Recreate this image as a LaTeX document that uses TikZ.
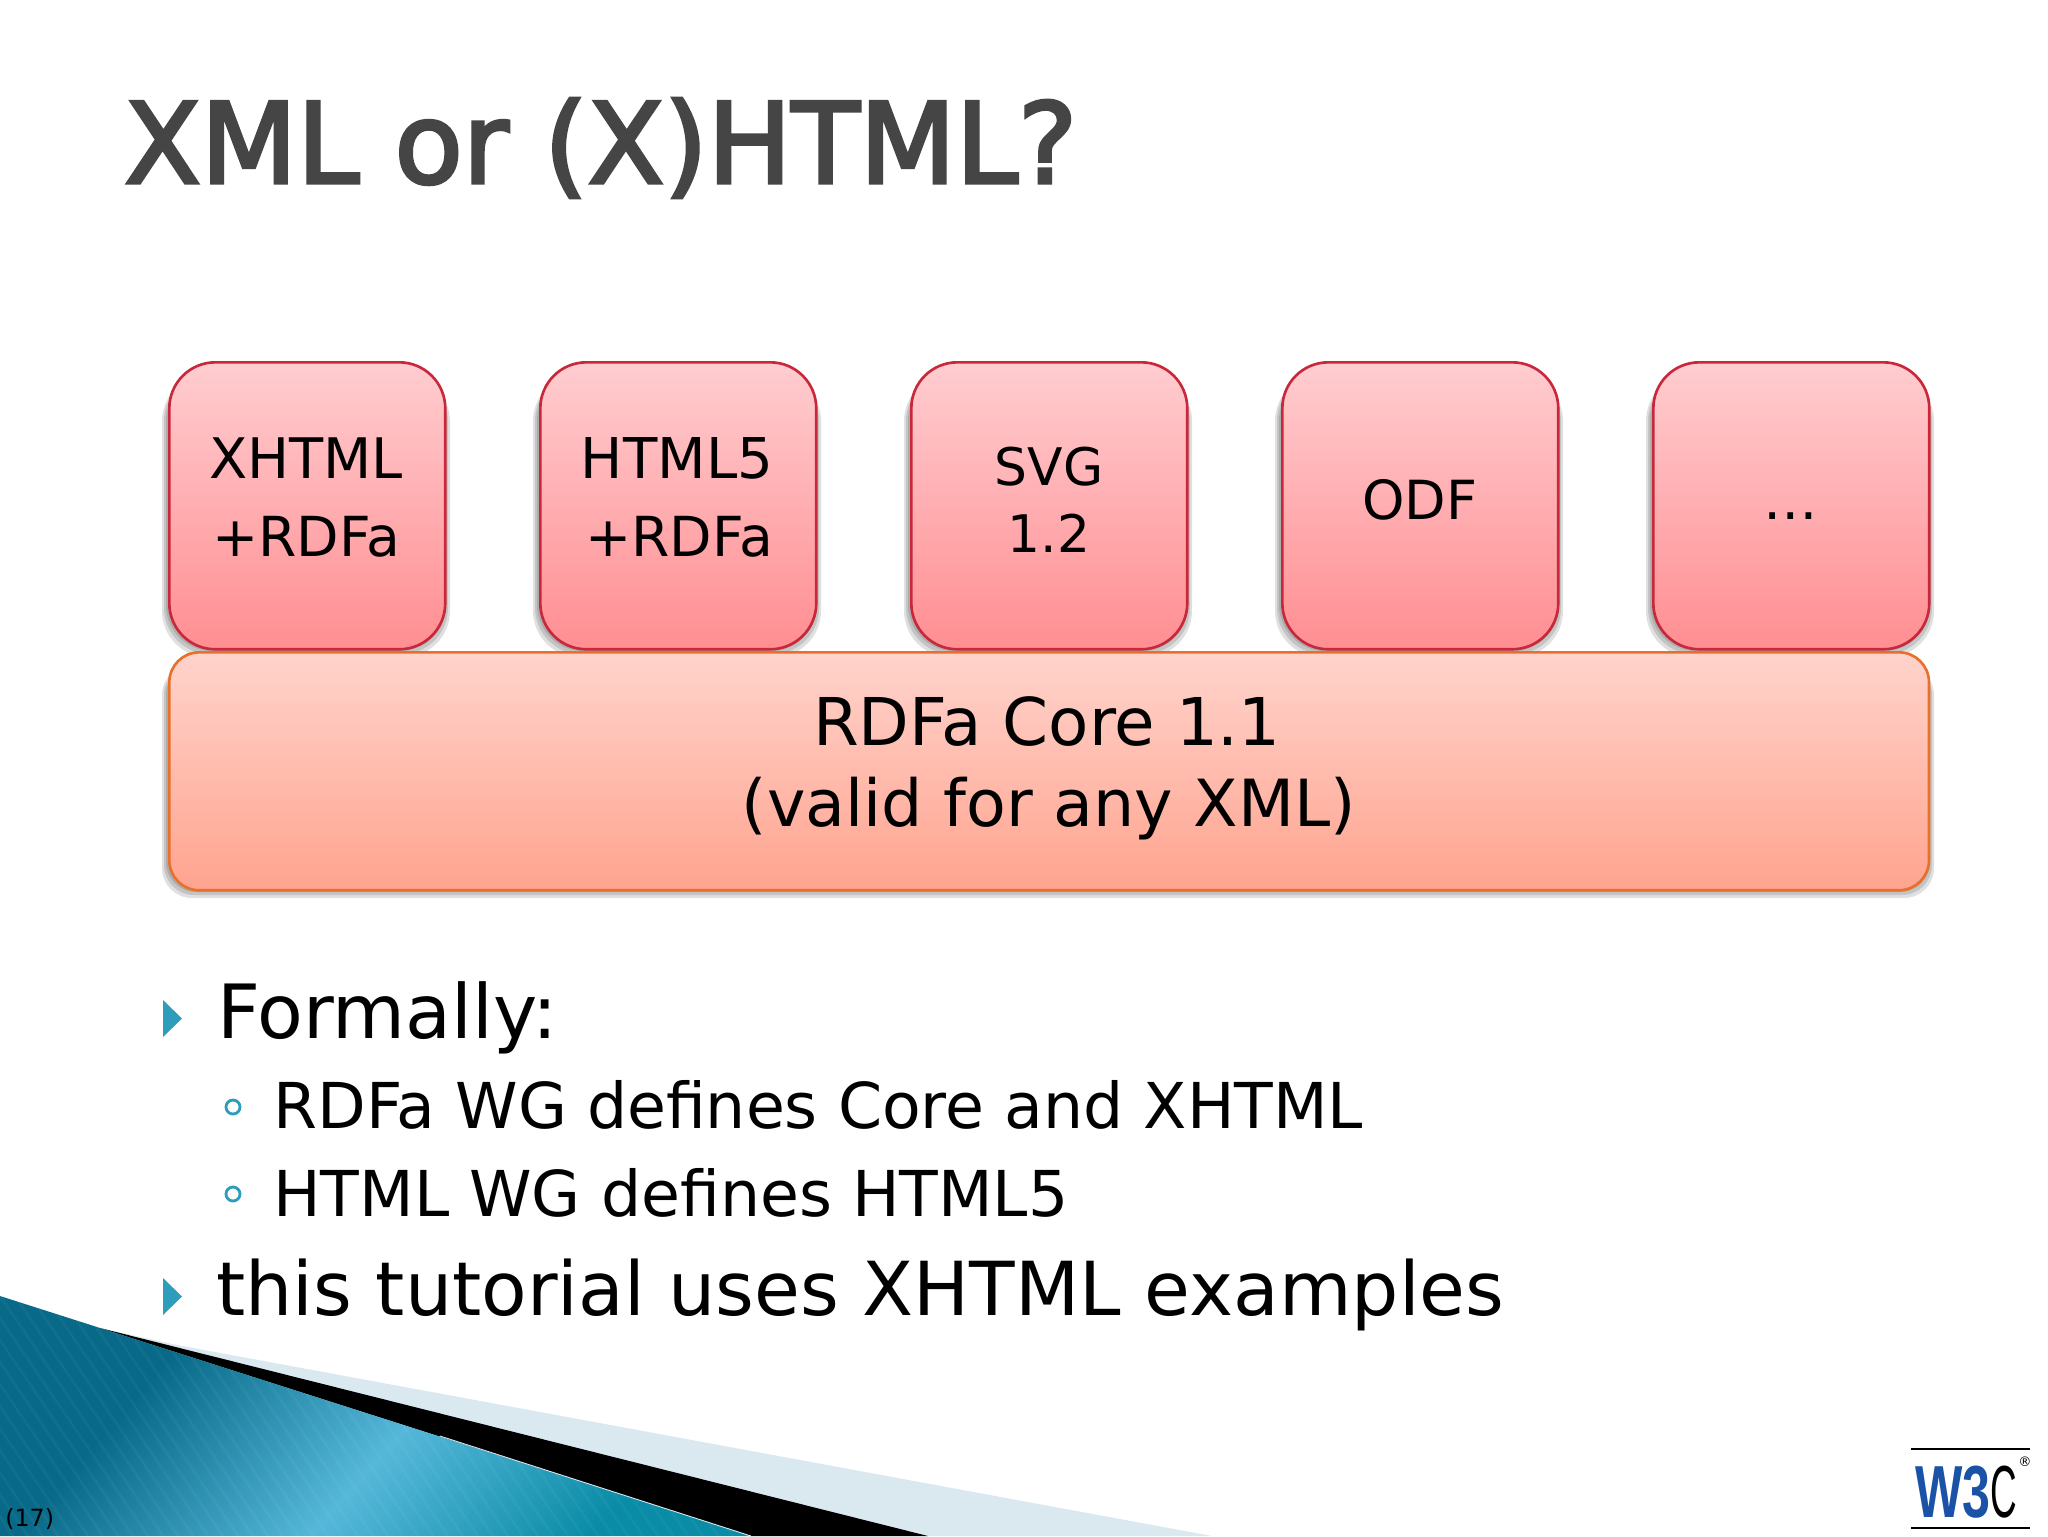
\documentclass[tikz,border=0pt]{standalone}
\usepackage{fontspec}
\usepackage{graphicx}
\setmainfont{DejaVu Sans}
\newfontfamily\titlefont[FakeBold=3]{DejaVu Sans}
\newfontfamily\logofont{Liberation Sans}
\newcommand{\fsz}[1]{\fontsize{#1}{#1}\selectfont}
\definecolor{tealb}{HTML}{2E9DBB}
\definecolor{boxtop}{HTML}{FFCDD0}
\definecolor{boxbot}{HTML}{FF8E92}
\definecolor{boxline}{HTML}{C8283A}
\definecolor{coretop}{HTML}{FFD3CC}
\definecolor{corebot}{HTML}{FFA48F}
\definecolor{coreline}{HTML}{E8702A}
\definecolor{lightwedge}{HTML}{DAE9F0}
\definecolor{bluedark}{HTML}{086A88}
\definecolor{bluelight}{HTML}{55B7D9}
\definecolor{bluemid}{HTML}{0A8CA6}
\definecolor{wthree}{HTML}{1A52A8}
\definecolor{titlegray}{HTML}{454545}
\pgfdeclarehorizontalshading{bluefan}{100bp}{color(0bp)=(bluedark); color(33bp)=(bluedark); color(50bp)=(bluelight); color(66bp)=(bluemid); color(100bp)=(bluemid)}
\tikzset{
  x=0.02cm,y=-0.02cm,
  slidebox/.style={draw=boxline,line width=1.5pt,rounded corners=0.92cm,top color=boxtop,bottom color=boxbot,
    minimum width=5.52cm,minimum height=5.74cm,inner sep=0pt,align=center,anchor=north west},
  corebox/.style={draw=coreline,line width=1.5pt,rounded corners=0.6cm,top color=coretop,bottom color=corebot,
    minimum width=35.2cm,minimum height=4.76cm,inner sep=0pt,align=center,anchor=north west},
  softshadow/.style={fill=black,fill opacity=0.12,draw=none},
  txt/.style={anchor=base west,inner sep=0pt,text=black},
  lab/.style={anchor=base,inner sep=0pt,text=black},
  tri/.style={fill=tealb,draw=none},
  ring/.style={draw=tealb,line width=1.6pt,fill=none},
}
\begin{document}
\begin{tikzpicture}
\useasboundingbox (0,0) rectangle (2048,1536);
\fill[white] (0,0) rectangle (2048,1536);
\clip (0,0) rectangle (2048,1536);
% title
\node[txt,text=titlegray] (title) at (124,183) {\titlefont\fsz{63.5}XML or (X)HTML?};
% bottom graphic
\fill[lightwedge] (100,1328) -- (177,1345) -- (1212,1536) -- (750,1536) -- cycle;
\fill[black] (100,1328) -- (928,1536) -- (751,1536) -- cycle;
\begin{scope}
\clip (0,1296) -- (751,1536) -- (0,1536) -- cycle;
\shade[shading=bluefan,shading angle=-41]
  (-40,1230) rectangle (760,1730);
\foreach \sx in {-150,-135,...,750}{
  \draw[white,opacity=0.04,line width=1.6pt] (\sx,1296) -- (\sx+163,1536);
}
\end{scope}
\draw[lightwedge,line width=0.5pt] (440,1436) -- (751,1536);
% shadows
\foreach \bx in {168,539,910,1281,1652}{
  \foreach \g/\h in {6/9,4/6,2/3}{
    \fill[softshadow,rounded corners=0.92cm] (\bx-\g,375) rectangle (\bx+276+\g,648+\h);
  }
}
\foreach \g/\h in {6/9,4/6,2/3}{
  \fill[softshadow,rounded corners=0.6cm] (168-\g,665) rectangle (1928+\g,889+\h);
}
% boxes
\node[slidebox] (xhtml) at (168,361) {};
\node[slidebox] (html) at (539,361) {};
\node[slidebox] (svg) at (910,361) {};
\node[slidebox] (odf) at (1281,361) {};
\node[slidebox] (more) at (1652,361) {};
\node[corebox] (core) at (168,651) {};
\node[lab] (l1) at (306,478) {\fsz{31.8}XHTML};
\node[lab] (l2) at (306,556) {\fsz{31.4}+RDFa};
\node[lab] (l3) at (677,478) {\fsz{32}HTML5};
\node[lab] (l4) at (679,556) {\fsz{31.4}+RDFa};
\node[lab] (l5) at (1049,485) {\fsz{29.5}SVG};
\node[lab] (l6) at (1049,552) {\fsz{29.5}1.2};
\node[lab] (l7) at (1420,519) {\fsz{30.7}ODF};
\node[lab] (l8) at (1791,519) {\fsz{31}…};
\node[lab] (l9) at (1047,745) {\fsz{37.5}RDFa Core 1.1};
\node[lab] (l10) at (1049,826) {\fsz{37}(valid for any XML)};
% bullets
\fill[tri] (163,1000) -- (182,1018.5) -- (163,1037) -- cycle;
\fill[tri] (163,1278) -- (182,1296.5) -- (163,1315) -- cycle;
\draw[ring] (233,1107) circle (7);
\draw[ring] (233,1194) circle (7);
\node[txt] (b1) at (217,1038) {\fsz{42.6}Formally:};
\node[txt] (b2) at (273,1128) {\fsz{36}RDFa WG defines Core and XHTML};
\node[txt] (b3) at (273,1216) {\fsz{36}HTML WG defines HTML5};
\node[txt] (b4) at (216,1315) {\fsz{42.4}this tutorial uses XHTML examples};
\node[txt] (page) at (5,1526) {\fsz{13.5}(17)};
% logo
\node[anchor=base west,inner sep=0pt,text=wthree] (w3) at (1915,1517) {\scalebox{0.68}[1]{\logofont\bfseries\fsz{42}W3}};
\node[anchor=base west,inner sep=0pt] (c) at (1990,1517) {\scalebox{0.5}[1]{\logofont\fsz{42}C}};
\node[anchor=center,inner sep=0pt] (reg) at (2025,1462) {\fsz{7.5}®};
\draw[line width=0.8pt] (1911,1449) -- (2030,1449);
\draw[line width=0.8pt] (1911,1528) -- (2030,1528);
\end{tikzpicture}
\end{document}
